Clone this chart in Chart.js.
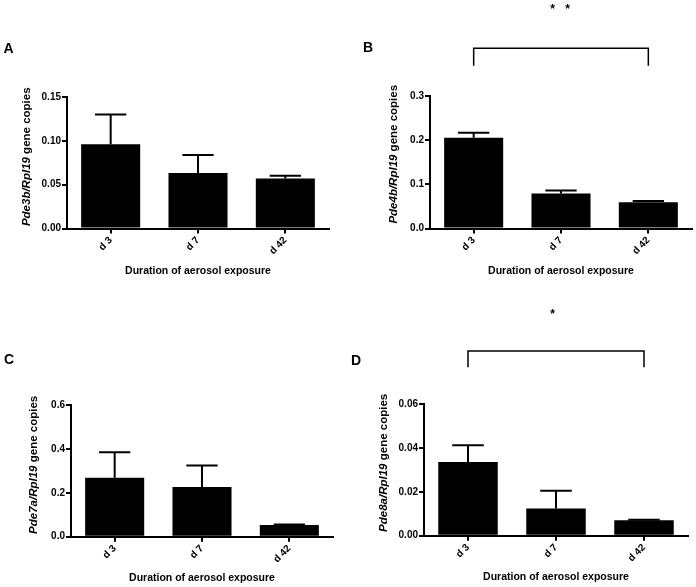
<!DOCTYPE html>
<html>
<head>
<meta charset="utf-8">
<title>Pde expression by duration of aerosol exposure</title>
<script src="https://cdn.jsdelivr.net/npm/chart.js@4.4.1/dist/chart.umd.min.js"></script>
<style>
  html, body { margin: 0; padding: 0; background: #fff; }
  #page { position: relative; width: 696px; height: 587px; overflow: hidden; }
  .panel { position: absolute; }
</style>
</head>
<body>
<div id="page">
  <div class="panel" style="left:0;top:0"><canvas id="chartA"></canvas></div>
  <div class="panel" style="left:348px;top:0"><canvas id="chartB"></canvas></div>
  <div class="panel" style="left:0;top:293px"><canvas id="chartC"></canvas></div>
  <div class="panel" style="left:348px;top:293px"><canvas id="chartD"></canvas></div>
</div>
<script>
// Data
const categories = ['d 3', 'd 7', 'd 42'];
const xAxisTitle = 'Duration of aerosol exposure';

const pde3bMean = [0.096, 0.0633, 0.0569];
const pde3bSem  = [0.034, 0.0205, 0.0034];
const pde3bTicks = [0, 0.05, 0.10, 0.15];

const pde4bMean = [0.2055, 0.0794, 0.0594];
const pde4bSem  = [0.0113, 0.0068, 0.0028];
const pde4bTicks = [0, 0.1, 0.2, 0.3];

const pde7aMean = [0.269, 0.2267, 0.0529];
const pde7aSem  = [0.116, 0.098, 0.003];
const pde7aTicks = [0, 0.2, 0.4, 0.6];

const pde8aMean = [0.0336, 0.0124, 0.0070];
const pde8aSem  = [0.0076, 0.0081, 0.0003];
const pde8aTicks = [0, 0.02, 0.04, 0.06];

const FONT = "'Liberation Sans', Arial, sans-serif";
const Y_AXIS_W = 50;
const X_TITLE_SIZE = 10.5;

// Draws error bars, y axis title (mixed italic), panel letter and significance bracket
const panelDecor = {
    id: 'panelDecor',
    afterDatasetsDraw(chart) {
        const ctx = chart.ctx;
        const meta = chart.getDatasetMeta(0);
        const ds = chart.data.datasets[0];
        const y = chart.scales.y;
        ctx.save();
        ctx.strokeStyle = '#000';
        ctx.lineWidth = 2;
        meta.data.forEach((bar, i) => {
            const x = bar.x;
            const top = y.getPixelForValue(ds.data[i]);
            const end = y.getPixelForValue(ds.data[i] + ds.sem[i]);
            const half = bar.width * 0.265;
            ctx.beginPath();
            ctx.moveTo(x, top);
            ctx.lineTo(x, end);
            ctx.moveTo(x - half, end);
            ctx.lineTo(x + half, end);
            ctx.stroke();
        });
        ctx.restore();
    },
    afterDraw(chart) {
        const p = chart.options.plugins.panelDecor;
        const ctx = chart.ctx;
        const area = chart.chartArea;
        ctx.save();
        ctx.fillStyle = '#000';

        // panel letter
        ctx.font = 'bold 14px ' + FONT;
        ctx.textAlign = 'center';
        ctx.textBaseline = 'middle';
        ctx.fillText(p.letter, p.letterX, p.letterY);

        // y axis title: gene names in italic
        const f1 = 'italic bold 11.5px ' + FONT;
        const f2 = 'bold 11.5px ' + FONT;
        ctx.font = f1;
        const w1 = ctx.measureText(p.yTitle[0]).width;
        ctx.font = f2;
        const w2 = ctx.measureText(p.yTitle[1]).width;
        const cy = (area.top + area.bottom) / 2 + p.yTitleShift;
        ctx.translate(p.yTitleX, cy);
        ctx.rotate(-Math.PI / 2);
        ctx.textAlign = 'left';
        ctx.font = f1;
        ctx.fillText(p.yTitle[0], -(w1 + w2) / 2, 0);
        ctx.font = f2;
        ctx.fillText(p.yTitle[1], -(w1 + w2) / 2 + w1, 0);
        ctx.restore();

        // significance bracket between d 3 and d 42
        if (p.bracket) {
            const x = chart.scales.x;
            const x0 = x.getPixelForValue(0);
            const x1 = x.getPixelForValue(2);
            const b = p.bracket;
            ctx.save();
            ctx.strokeStyle = '#000';
            ctx.lineWidth = 1.5;
            ctx.beginPath();
            ctx.moveTo(x0, b.bottom);
            ctx.lineTo(x0, b.top);
            ctx.lineTo(x1, b.top);
            ctx.lineTo(x1, b.bottom);
            ctx.stroke();
            ctx.fillStyle = '#000';
            ctx.font = 'bold 12px ' + FONT;
            ctx.textAlign = 'center';
            ctx.textBaseline = 'alphabetic';
            b.stars.forEach(sx => ctx.fillText('*', sx, b.starY + 7));
            ctx.restore();
        }
    }
};

function makePanel(p) {
    const canvas = document.getElementById(p.id);
    canvas.width = p.w;
    canvas.height = p.h;
    canvas.style.width = p.w + 'px';
    canvas.style.height = p.h + 'px';
    const a = p.area;
    const xAxisH = p.xTitleY + X_TITLE_SIZE * 0.6 - a.bottom;
    const tickFont = { family: FONT, size: 10, weight: 'bold' };

    new Chart(canvas, {
        type: 'bar',
        data: {
            labels: categories,
            datasets: [{
                data: p.mean,
                sem: p.sem,
                backgroundColor: '#000',
                borderWidth: 0,
                barPercentage: 0.676,
                categoryPercentage: 1
            }]
        },
        options: {
            responsive: false,
            animation: false,
            layout: {
                padding: {
                    left: a.left - Y_AXIS_W,
                    top: a.top,
                    right: p.w - a.right,
                    bottom: p.h - a.bottom - xAxisH
                }
            },
            plugins: {
                legend: { display: false },
                tooltip: { enabled: false },
                panelDecor: p.decor
            },
            scales: {
                x: {
                    grid: { offset: false, drawOnChartArea: false, drawTicks: true, tickLength: 5, lineWidth: 2, color: '#000' },
                    border: { display: true, color: '#000', width: 2 },
                    ticks: { minRotation: 45, maxRotation: 45, font: tickFont, color: '#000', padding: 1 },
                    title: {
                        display: true,
                        text: xAxisTitle,
                        font: { family: FONT, size: X_TITLE_SIZE, weight: 'bold', lineHeight: 1.2 },
                        color: '#000',
                        padding: 0
                    },
                    afterFit: s => { s.height = xAxisH; }
                },
                y: {
                    min: 0,
                    max: p.ticks[p.ticks.length - 1],
                    afterBuildTicks: s => { s.ticks = p.ticks.map(v => ({ value: v })); },
                    grid: { drawOnChartArea: false, drawTicks: true, tickLength: 5, lineWidth: 2, color: '#000' },
                    border: { display: true, color: '#000', width: 2 },
                    ticks: {
                        font: tickFont,
                        color: '#000',
                        padding: 1,
                        callback: v => Number(v).toFixed(p.decimals)
                    },
                    afterFit: s => { s.width = Y_AXIS_W; }
                }
            }
        },
        plugins: [panelDecor]
    });
}

makePanel({
    id: 'chartA', w: 348, h: 293,
    mean: pde3bMean, sem: pde3bSem, ticks: pde3bTicks, decimals: 2,
    area: { left: 67, right: 329, top: 97, bottom: 228.5 },
    xTitleY: 271,
    decor: { letter: 'A', letterX: 8.5, letterY: 49, yTitle: ['Pde3b/Rpl19', ' gene copies'], yTitleX: 27, yTitleShift: -6, bracket: null }
});

makePanel({
    id: 'chartB', w: 348, h: 293,
    mean: pde4bMean, sem: pde4bSem, ticks: pde4bTicks, decimals: 1,
    area: { left: 82, right: 344, top: 96, bottom: 228.5 },
    xTitleY: 271.5,
    decor: {
        letter: 'B', letterX: 20, letterY: 48, yTitle: ['Pde4b/Rpl19', ' gene copies'], yTitleX: 45.5, yTitleShift: -8,
        bracket: { top: 48.3, bottom: 65.7, starY: 5.5, stars: [204.7, 219.7] }
    }
});

makePanel({
    id: 'chartC', w: 348, h: 294,
    mean: pde7aMean, sem: pde7aSem, ticks: pde7aTicks, decimals: 1,
    area: { left: 71, right: 333, top: 112, bottom: 243.7 },
    xTitleY: 285,
    decor: { letter: 'C', letterX: 9, letterY: 67, yTitle: ['Pde7a/Rpl19', ' gene copies'], yTitleX: 34, yTitleShift: -6, bracket: null }
});

makePanel({
    id: 'chartD', w: 348, h: 294,
    mean: pde8aMean, sem: pde8aSem, ticks: pde8aTicks, decimals: 2,
    area: { left: 76, right: 340, top: 111, bottom: 242.7 },
    xTitleY: 284,
    decor: {
        letter: 'D', letterX: 8, letterY: 68, yTitle: ['Pde8a/Rpl19', ' gene copies'], yTitleX: 36, yTitleShift: -7,
        bracket: { top: 58, bottom: 74.3, starY: 17.7, stars: [204.7] }
    }
});
</script>
</body>
</html>
